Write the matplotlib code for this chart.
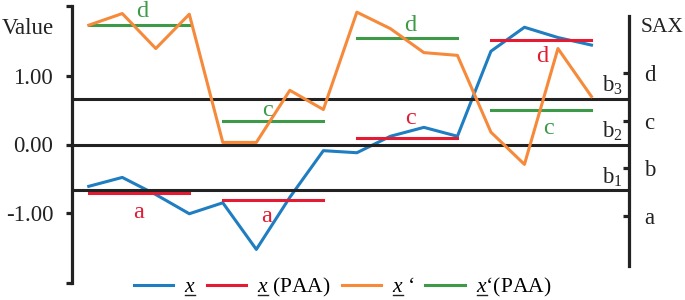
import matplotlib
matplotlib.use("Agg")
import matplotlib.pyplot as plt
from matplotlib.lines import Line2D
from matplotlib.font_manager import FontProperties

plt.rcParams['font.family'] = ['Liberation Serif', 'DejaVu Serif']
plt.rcParams['mathtext.fontset'] = 'custom'
plt.rcParams['mathtext.rm'] = 'Liberation Serif'
plt.rcParams['mathtext.it'] = 'Liberation Serif:italic'

# ---------------- data ----------------
t = list(range(16))
x_series = [-0.61, -0.48, -0.73, -1.01, -0.85, -1.53, -0.77, -0.09,
            -0.12, 0.12, 0.25, 0.12, 1.36, 1.71, 1.56, 1.45]
x2_series = [1.74, 1.91, 1.40, 1.90, 0.03, 0.03, 0.79, 0.51,
             1.93, 1.69, 1.34, 1.30, 0.18, -0.29, 1.40, 0.70]
paa_x = [-0.71, -0.81, 0.09, 1.52]
paa_x2 = [1.74, 0.34, 1.56, 0.50]
sax_x = ['a', 'a', 'c', 'd']
sax_x2 = ['d', 'c', 'd', 'c']
seg_start = [0, 4, 8, 12]
seg_end = [3, 7, 11, 15]
breakpoints = [-0.67, 0.0, 0.67]
bp_labels = ['b$_1$', 'b$_2$', 'b$_3$']
left_ticks = [-1.0, 0.0, 1.0]
left_ticklabels = ['-1.00', '0.00', '1.00']
sax_ticks = [-1.05, -0.35, 0.35, 1.05]
sax_ticklabels = ['a', 'b', 'c', 'd']
legend_labels = ['$x$', '$x$ (PAA)', '$x$ \u2018', '$x$\u2018(PAA)']

c_blue = '#1f7dc1'
c_red = '#e31b33'
c_orange = '#f68a3a'
c_green = '#3c9a48'
c_black = '#222222'

fig = plt.figure(figsize=(6.85, 3.0), dpi=100)
ax = fig.add_axes([72 / 685, 17 / 300, (629 - 72) / 685, 277 / 300])
ax.set_xlim(-0.5, 16.12)
ax.set_ylim(-2.02, 2.02)

for s in ['top', 'right', 'bottom']:
    ax.spines[s].set_visible(False)
ax.spines['left'].set_linewidth(2.3)
ax.spines['left'].set_color(c_black)
ax.set_xticks([])
ax.set_yticks([-2.02] + left_ticks + [2.02])
ax.set_yticklabels([''] + left_ticklabels + [''])
ax.tick_params(axis='y', direction='out', length=4.5, width=2.3, color=c_black,
               labelsize=16.5, pad=9, labelcolor=c_black)

for b in breakpoints:
    ax.axhline(b, color=c_black, lw=2.2, zorder=4.5)

lw = 2.2
ax.plot(t, x_series, color=c_blue, lw=lw, zorder=3)
for v, s0, s1 in zip(paa_x, seg_start, seg_end):
    ax.plot([s0, s1], [v, v], color=c_red, lw=lw, zorder=4)
ax.plot(t, x2_series, color=c_orange, lw=lw, zorder=6)
for v, s0, s1 in zip(paa_x2, seg_start, seg_end):
    ax.plot([s0, s1], [v, v], color=c_green, lw=lw, zorder=5)

# letter annotations (offsets in pixels)
red_off = [(0, -25), (-7, -22), (3, 14), (1, -22)]
green_off = [(3, 8), (-6, 5), (3, 7), (7, -24)]
for v, s0, s1, lab, off in zip(paa_x, seg_start, seg_end, sax_x, red_off):
    ax.annotate(lab, xy=((s0 + s1) / 2, v), xytext=off, textcoords='offset pixels',
                ha='center', va='baseline', color=c_red, fontsize=17.5, zorder=7)
for v, s0, s1, lab, off in zip(paa_x2, seg_start, seg_end, sax_x2, green_off):
    ax.annotate(lab, xy=((s0 + s1) / 2, v), xytext=off, textcoords='offset pixels',
                ha='center', va='baseline', color=c_green, fontsize=17.5, zorder=7)

for b, lab in zip(breakpoints, bp_labels):
    ax.annotate(lab, xy=(1.0, b), xycoords=('axes fraction', 'data'),
                xytext=(-6, 7), textcoords='offset pixels',
                ha='right', va='baseline', fontsize=16.5, color=c_black)

# right SAX axis
ax2 = ax.twinx()
ax2.set_ylim(ax.get_ylim())
for s in ['top', 'left', 'bottom']:
    ax2.spines[s].set_visible(False)
ax2.spines['right'].set_linewidth(2.3)
ax2.spines['right'].set_color(c_black)
ax2.spines['right'].set_bounds(-1.77, 1.87)
ax2.set_yticks(sax_ticks)
ax2.set_yticklabels(sax_ticklabels)
ax2.tick_params(axis='y', direction='in', length=4.5, width=2.3, color=c_black,
                labelsize=16.5, pad=11, labelcolor=c_black)

fig.text(28 / 685, 1 - 28 / 300, 'Value', ha='center', va='center', fontsize=16.5, color=c_black)
fig.text(641 / 685, 1 - 27 / 300, 'SAX', ha='left', va='center', fontsize=15.5, color=c_black)

handles = [Line2D([], [], color=c_blue, lw=lw),
           Line2D([], [], color=c_red, lw=lw),
           Line2D([], [], color=c_orange, lw=lw),
           Line2D([], [], color=c_green, lw=lw)]
leg_fs = 15.5
leg = fig.legend(handles, legend_labels, loc='center', bbox_to_anchor=(0.5, 0.042), ncol=4,
                 frameon=False, fontsize=leg_fs, handlelength=1.85, handletextpad=0.5,
                 columnspacing=0.5, borderaxespad=0, borderpad=0)

# underline the italic x in each legend label
fig.canvas.draw()
renderer = fig.canvas.get_renderer()
prop = FontProperties(family='Liberation Serif', size=leg_fs)
w_x, _, _ = renderer.get_text_width_height_descent('$x$', prop, ismath=True)
for txt in leg.get_texts():
    bb = txt.get_window_extent(renderer)
    bx, by = txt.get_transform().transform(txt.get_position())
    y = by - 3.0
    fig.add_artist(Line2D([(bb.x0 + 0.5) / 685, (bb.x0 + w_x - 0.5) / 685], [y / 300, y / 300],
                          transform=fig.transFigure, color=c_black, lw=1.0))

fig.savefig('out.png', dpi=100)
